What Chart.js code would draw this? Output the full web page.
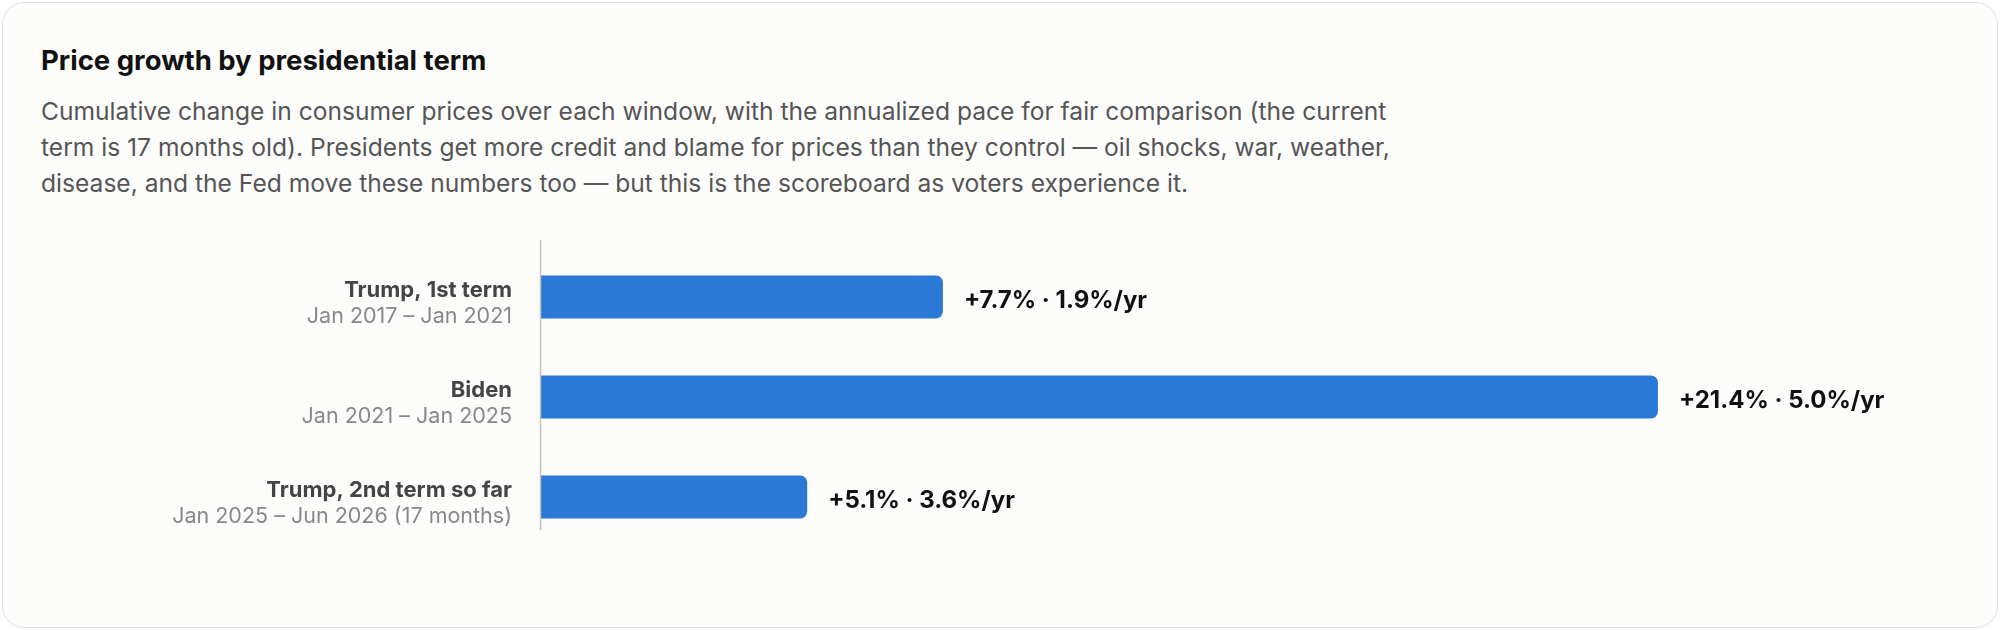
<!DOCTYPE html>
<html>
<head>
<meta charset="utf-8">
<script src="https://cdn.jsdelivr.net/npm/chart.js@4.4.1/dist/chart.umd.min.js"></script>
<style>
  html, body { margin: 0; padding: 0; background: #ffffff; }
  body { width: 2000px; height: 630px; position: relative; overflow: hidden; font-family: Inter, "Noto Sans", sans-serif; }
  .card {
    position: absolute; left: 2px; top: 2px; width: 1996px; height: 626px;
    box-sizing: border-box; border: 1.5px solid #e2e2e0; border-radius: 22px; background: #fcfcfb;
  }
  h1 {
    position: absolute; left: 41px; top: 42px; margin: 0;
    font-size: 27.5px; font-weight: 700; color: #111; line-height: 36px;
  }
  p.sub {
    position: absolute; left: 41px; top: 93px; margin: 0; width: 1600px; white-space: nowrap;
    font-size: 24.6px; line-height: 36px; color: #555;
  }
  #wrap { position: absolute; left: 0; top: 0; width: 2000px; height: 630px; }
</style>
</head>
<body>
<div class="card"></div>
<h1>Price growth by presidential term</h1>
<p class="sub">Cumulative change in consumer prices over each window, with the annualized pace for fair comparison (the current<br>term is 17 months old). Presidents get more credit and blame for prices than they control — oil shocks, war, weather,<br>disease, and the Fed move these numbers too — but this is the scoreboard as voters experience it.</p>
<div id="wrap"><canvas id="myChart"></canvas></div>
<script>
// 資料
const terms = ['Trump, 1st term', 'Biden', 'Trump, 2nd term so far'];
const ranges = ['Jan 2017 – Jan 2021', 'Jan 2021 – Jan 2025', 'Jan 2025 – Jun 2026 (17 months)'];
const cumulative = [7.7, 21.4, 5.1];
const annualized = [1.9, 5.0, 3.6];

function valueLabel(i) {
    return '+' + cumulative[i].toFixed(1) + '% · ' + annualized[i].toFixed(1) + '%/yr';
}

// 左邊的名稱+日期、右邊的數值、還有那條直線
const labelPlugin = {
    id: 'labelPlugin',
    afterDatasetsDraw(chart) {
        const c = chart.ctx;
        const area = chart.chartArea;
        const yScale = chart.scales.y;
        c.save();
        // 軸線
        c.strokeStyle = '#c4c3bd';
        c.lineWidth = 1.5;
        c.beginPath();
        c.moveTo(area.left - 0.5, area.top - 7);
        c.lineTo(area.left - 0.5, area.bottom - 17);
        c.stroke();

        terms.forEach(function(t, i) {
            const y = yScale.getPixelForValue(i);
            c.textAlign = 'right';
            c.textBaseline = 'middle';
            c.font = '700 22px Inter, sans-serif';
            c.fillStyle = '#444';
            c.fillText(t, area.left - 29, y - 7);
            c.font = '400 21.5px Inter, sans-serif';
            c.fillStyle = '#888';
            c.fillText(ranges[i], area.left - 29, y + 20);
        });

        const meta = chart.getDatasetMeta(0);
        meta.data.forEach(function(bar, i) {
            c.textAlign = 'left';
            c.textBaseline = 'middle';
            c.font = '700 24px Inter, sans-serif';
            c.fillStyle = '#111';
            c.fillText(valueLabel(i), bar.x + 21, bar.y + 4);
        });
        c.restore();
    }
};

const ctx = document.getElementById('myChart');

var chart = new Chart(ctx, {
    type: 'bar',
    data: {
        labels: terms,
        datasets: [{
            data: cumulative,
            backgroundColor: '#2a79d6',
            borderRadius: 7,
            borderSkipped: 'start',
            barPercentage: 0.43,
            categoryPercentage: 1.0
        }]
    },
    options: {
        indexAxis: 'y',
        responsive: true,
        maintainAspectRatio: false,
        animation: false,
        layout: {
            padding: {left: 541, right: 102, top: 247, bottom: 83}
        },
        plugins: {
            legend: {display: false},
            tooltip: {enabled: false}
        },
        scales: {
            x: {display: false, min: 0, max: 26},
            y: {display: false}
        }
    },
    plugins: [labelPlugin]
});
</script>
</body>
</html>
